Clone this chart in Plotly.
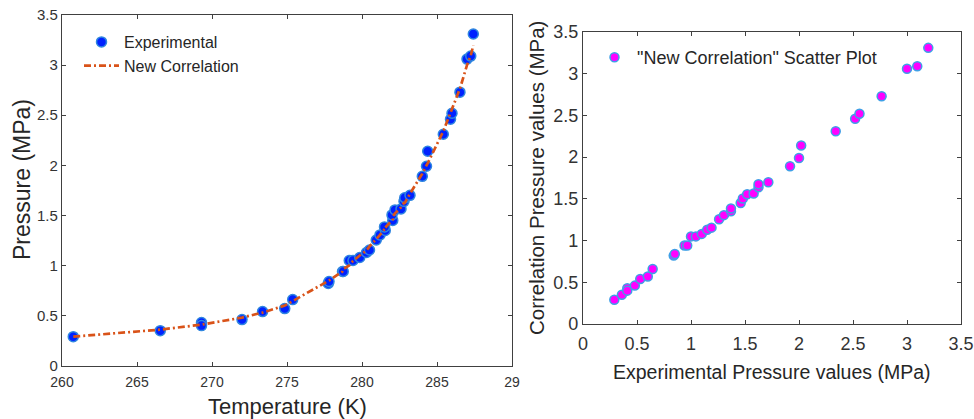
import plotly.graph_objects as go

# Saturation data: temperature (K), measured pressure and correlation pressure (MPa)
temperature_K = [260.75, 266.55, 269.3, 269.3, 272.0, 273.37, 274.85, 275.38,
                 277.75, 277.8, 278.7, 278.75, 279.15, 279.4, 279.85, 280.3,
                 280.5, 280.95, 281.2, 281.55, 281.5, 282.05, 282.0, 282.2,
                 282.6, 282.8, 282.85, 283.2, 284.02, 284.3, 284.38, 285.42,
                 285.9, 286.0, 286.53, 287.0, 287.25, 287.42]
p_experimental = [0.29, 0.35, 0.43, 0.40, 0.46, 0.54, 0.57, 0.66,
                  0.82, 0.84, 0.94, 0.94, 1.05, 1.05, 1.08, 1.13,
                  1.155, 1.255, 1.305, 1.35, 1.385, 1.45, 1.505, 1.555,
                  1.565, 1.64, 1.675, 1.70, 1.89, 1.99, 2.14, 2.31,
                  2.46, 2.52, 2.73, 3.06, 3.09, 3.31]
p_correlation = [0.29, 0.36, 0.41, 0.41, 0.48, 0.53, 0.60, 0.645,
                 0.84, 0.85, 0.94, 0.965, 1.00, 1.045, 1.10, 1.15,
                 1.19, 1.26, 1.305, 1.37, 1.37, 1.46, 1.48, 1.52,
                 1.58, 1.625, 1.625, 1.716, 1.917, 2.00, 2.02, 2.34,
                 2.52, 2.56, 2.765, 3.00, 3.095, 3.197]

temp_ticks = [260, 265, 270, 275, 280, 285, 290]
temp_ticktext = ["260", "265", "270", "275", "280", "285", "29"]
p_ticks = [0, 0.5, 1, 1.5, 2, 2.5, 3, 3.5]

W, H = 974, 419
AX = "#404040"
TXT = "#262626"
FONT = "Arial, Liberation Sans, sans-serif"

fig = go.Figure()

fig.add_trace(go.Scatter(
    x=temperature_K, y=p_experimental, mode="markers", name="Experimental",
    marker=dict(size=10, color="#0022FF", line=dict(color="#2F86E0", width=1.5)),
    xaxis="x", yaxis="y", legend="legend"))
fig.add_trace(go.Scatter(
    x=temperature_K, y=p_correlation, mode="lines", name="New Correlation",
    line=dict(color="#D95319", width=2.7, dash="7px,3px,2px,3px"),
    xaxis="x", yaxis="y", legend="legend"))
fig.add_trace(go.Scatter(
    x=p_correlation, y=p_experimental, mode="markers",
    name='"New Correlation" Scatter Plot',
    marker=dict(size=9, color="#FF00FF", line=dict(color="#3FA0E6", width=1.5)),
    xaxis="x2", yaxis="y2", legend="legend2"))


def px_x(p):
    return p / W


def px_y(p):
    return 1 - p / H


common = dict(showgrid=False, zeroline=False, showline=True, linecolor=AX,
              linewidth=1.2, mirror="ticks", ticks="inside", ticklen=4,
              tickcolor=AX, tickwidth=1, automargin=False)

fig.update_layout(
    width=W, height=H, autosize=False,
    margin=dict(l=0, r=0, t=0, b=0, pad=0),
    paper_bgcolor="white", plot_bgcolor="white",
    font=dict(family=FONT, color=TXT),
    xaxis=dict(domain=[px_x(62), px_x(512)], range=[260, 290],
               tickvals=temp_ticks, ticktext=temp_ticktext,
               tickfont=dict(size=14, color="#333333"), ticklabelstandoff=3,
               anchor="y", **common),
    yaxis=dict(domain=[px_y(365.7), px_y(15)], range=[0, 3.5],
               tickvals=p_ticks, tickfont=dict(size=15, color="#333333"),
               anchor="x", **common),
    xaxis2=dict(domain=[px_x(583), px_x(961)], range=[0, 3.5],
                tickvals=p_ticks, tickfont=dict(size=18, color="#333333"),
                ticklabelstandoff=3, anchor="y2", **common),
    yaxis2=dict(domain=[px_y(324), px_y(32)], range=[0, 3.5],
                tickvals=p_ticks, tickfont=dict(size=18, color="#333333"),
                anchor="x2", **common),
    legend=dict(x=px_x(79), y=px_y(25), xanchor="left", yanchor="top",
                bgcolor="rgba(0,0,0,0)", borderwidth=0, itemwidth=35,
                font=dict(size=16, color=TXT), tracegroupgap=0),
    legend2=dict(x=px_x(592), y=px_y(39), xanchor="left", yanchor="top",
                 bgcolor="rgba(0,0,0,0)", borderwidth=0, itemwidth=35,
                 font=dict(size=18, color=TXT)),
    showlegend=True,
)

titles = [
    dict(text="Temperature (K)", x=px_x(287.5), y=px_y(406), size=22, angle=0),
    dict(text="Pressure (MPa)", x=px_x(22), y=px_y(180), size=23, angle=-90),
    dict(text="Experimental Pressure values (MPa)", x=px_x(772),
         y=px_y(372), size=19.5, angle=0),
    dict(text="Correlation Pressure values (MPa)", x=px_x(537),
         y=px_y(178), size=20.5, angle=-90),
]
for t in titles:
    fig.add_annotation(text=t["text"], x=t["x"], y=t["y"], xref="paper",
                       yref="paper", xanchor="center", yanchor="middle",
                       showarrow=False, textangle=t["angle"],
                       font=dict(size=t["size"], color=TXT, family=FONT))

# page body without the default browser margin so the figure fills the window
fig.write_html("out.html", post_script="document.body.style.margin='0';")
